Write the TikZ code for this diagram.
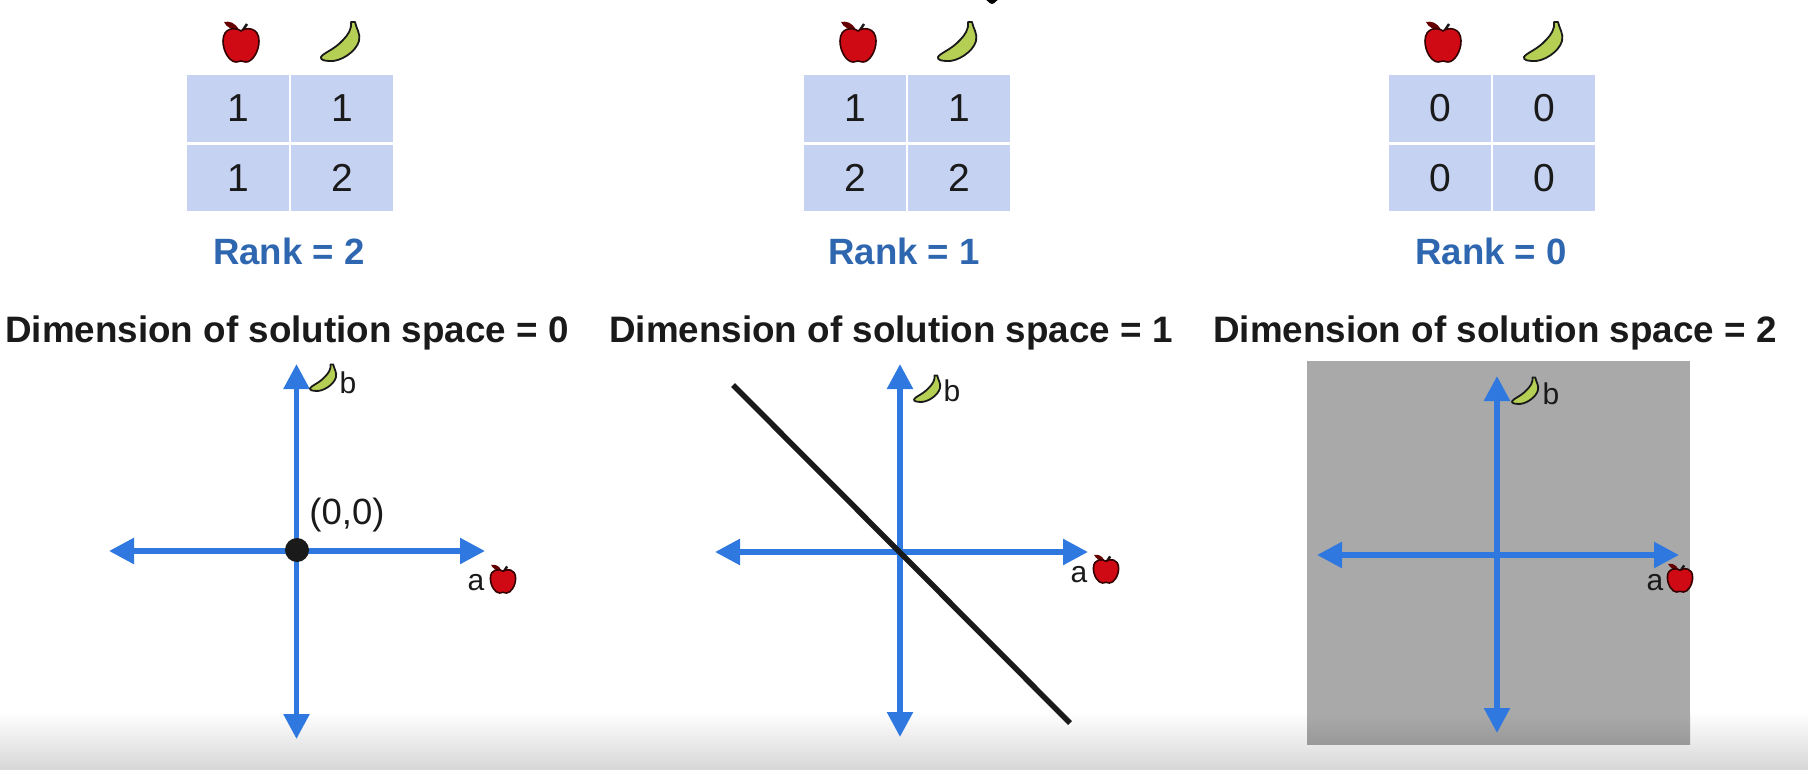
\documentclass[tikz,border=0pt]{standalone}
\usepackage{fontspec}
\setmainfont{Liberation Sans}
\usetikzlibrary{arrows.meta}

\definecolor{cellblue}{HTML}{C5D2F2}
\definecolor{rankblue}{HTML}{2F66B0}
\definecolor{axisblue}{HTML}{2F78E0}
\definecolor{inkblack}{HTML}{1A1A1A}
\definecolor{planegray}{HTML}{A9A9A9}
\definecolor{bananagreen}{HTML}{B5CF55}
\definecolor{applered}{HTML}{CF0A14}

\tikzset{
  cell/.style = {fill=cellblue, minimum width=102pt, minimum height=66.5pt, inner sep=0pt, text=inkblack, font=\fontsize{39}{42}\selectfont},
  ranklabel/.style = {anchor=base, inner sep=0pt, text=rankblue, font=\fontsize{36.6}{40}\selectfont\bfseries},
  dimlabel/.style = {anchor=base, inner sep=0pt, text=inkblack, font=\fontsize{36.8}{40}\selectfont\bfseries},
  axislabel/.style = {inner sep=0pt, text=inkblack, font=\fontsize{30}{32}\selectfont},
  axisline/.style = {draw=axisblue, line width=5.5pt, {Triangle[length=25pt, width=25pt]}-{Triangle[length=25pt, width=25pt]}},
  applepic/.pic = {
    \path[fill=black!60!red] (-2,-12) .. controls (-6,-20) and (-12,-21) .. (-17,-20) .. controls (-15,-15) and (-8,-11) .. (-2,-12) -- cycle;
    \draw[line width=2.5pt, inkblack] (0,-9) -- (6,-18);
    \draw[fill=applered, draw=black!80!red, line width=1.6pt] (0,-11) .. controls (-5,-15) and (-18,-15) .. (-18,-1) .. controls (-18,10) and (-11,20) .. (-5,20) .. controls (-3,20) and (-1,19) .. (0,19) .. controls (1,19) and (3,20) .. (5,20) .. controls (11,20) and (18,10) .. (18,-1) .. controls (18,-15) and (5,-15) .. (0,-11) -- cycle;
  },
  bananapic/.pic = {
    \draw[fill=bananagreen, draw=inkblack, line width=1.8pt, line join=round] (11,-20) -- (15,-20) .. controls (16,-14) and (21,-8) .. (19,-1) .. controls (16,10) and (0,20) .. (-10,19) .. controls (-15,19) and (-20,18) .. (-19,15) .. controls (-17,11) and (-6,8) .. (3,-2) .. controls (8,-7) and (12,-13) .. (11,-20) -- cycle;
  }
}

\begin{document}
\begin{tikzpicture}[x=1pt, y=-1pt]
\useasboundingbox (0, 0) rectangle (1808, 770);

% bottom fade
\shade[top color=white, bottom color=black!16] (0, 712) rectangle (1808, 770);

% tail of a cut off letter
\fill[black] (984, 0) to [out=60, in=180] (992, 4) to [out=0, in=130] (1000, 0) -- cycle;

% tables
\node[cell] (A11) at (238, 108.5) {1};
\node[cell] (A12) at (342, 108.5) {1};
\node[cell] (A21) at (238, 178) {1};
\node[cell] (A22) at (342, 178) {2};

\node[cell] (B11) at (855, 108.5) {1};
\node[cell] (B12) at (959, 108.5) {1};
\node[cell] (B21) at (855, 178) {2};
\node[cell] (B22) at (959, 178) {2};

\node[cell] (C11) at (1440, 108.5) {0};
\node[cell] (C12) at (1544, 108.5) {0};
\node[cell] (C21) at (1440, 178) {0};
\node[cell] (C22) at (1544, 178) {0};

\pic at (241, 42) {applepic};
\pic at (340, 42) {bananapic};
\pic at (858, 42) {applepic};
\pic at (957, 42) {bananapic};
\pic at (1443, 42) {applepic};
\pic at (1543, 42) {bananapic};

\node[ranklabel] (RA) at (289, 265) {Rank = 2};
\node[ranklabel] (RB) at (904, 265) {Rank = 1};
\node[ranklabel] (RC) at (1491, 265) {Rank = 0};

\node[dimlabel] (DA) at (287, 342) {Dimension of solution space = 0};
\node[dimlabel] (DB) at (891, 342) {Dimension of solution space = 1};
\node[dimlabel] (DC) at (1495, 342) {Dimension of solution space = 2};

% first axes
\coordinate (AT) at (296.5, 364);
\coordinate (AB) at (296.5, 739);
\coordinate (AL) at (109, 551);
\coordinate (AR) at (485, 551);
\draw[axisline] (AT) -- (AB);
\draw[axisline] (AL) -- (AR);
\node[circle, fill=inkblack, minimum size=24pt, inner sep=0pt] (O) at (297, 550) {};
\node[axislabel, font=\fontsize{36.5}{40}\selectfont] (OL) at (347, 515) {(0,0)};
\pic[scale=0.68] at (323, 378) {bananapic};
\node[axislabel] (Ab) at (348, 383) {b};
\node[axislabel] (Aa) at (476, 583) {a};
\pic[scale=0.7] at (503, 579) {applepic};

% second axes
\coordinate (BT) at (900, 364);
\coordinate (BB) at (900, 737);
\coordinate (BL) at (715, 552);
\coordinate (BR) at (1088, 552);
\coordinate (LA) at (733, 385);
\coordinate (LB) at (1070, 723);
\draw[axisline] (BT) -- (BB);
\draw[axisline] (BL) -- (BR);
\draw[line width=5.5pt, inkblack] (LA) -- (LB);
\pic[scale=0.68] at (927, 389) {bananapic};
\node[axislabel] (Bb) at (952, 391) {b};
\node[axislabel] (Ba) at (1079, 575) {a};
\pic[scale=0.7] at (1106, 569) {applepic};

% third axes
\fill[planegray] (1307, 361) rectangle (1690, 716);
\shade[top color=planegray, bottom color=black!40] (1307, 715) rectangle (1690, 744);
\coordinate (CT) at (1497, 376);
\coordinate (CB) at (1497, 733);
\coordinate (CL) at (1317, 555);
\coordinate (CR) at (1679, 555);
\draw[axisline] (CT) -- (CB);
\draw[axisline] (CL) -- (CR);
\pic[scale=0.68] at (1525, 391) {bananapic};
\node[axislabel] (Cb) at (1551, 394) {b};
\node[axislabel] (Ca) at (1655, 583) {a};
\pic[scale=0.7] at (1680, 578) {applepic};
\end{tikzpicture}
\end{document}
